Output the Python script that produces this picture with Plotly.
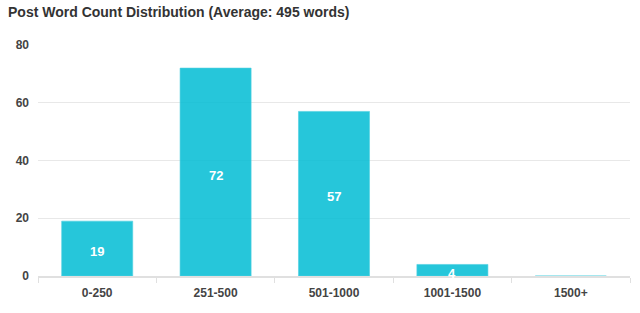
import plotly.graph_objects as go

categories = ["0-250", "251-500", "501-1000", "1001-1500", "1500+"]
counts = [19, 72, 57, 4, 0]
y_ticks = [0, 20, 40, 60, 80]

bar_fill = "rgba(0,188,212,0.85)"
bar_line = "rgba(77,208,225,0.6)"

fig = go.Figure()
fig.add_trace(go.Bar(
    x=categories, y=counts, width=0.6,
    marker=dict(color=bar_fill, line=dict(color=bar_line, width=1)),
    hoverinfo="x+y",
))

for c, v in zip(categories, counts):
    if v > 0:
        fig.add_annotation(x=c, y=v / 2, text=str(v), showarrow=False, yshift=-3,
                           font=dict(family="Liberation Sans, Arial", size=13, color="white", weight="bold"))

fig.update_layout(
    width=640, height=313,
    margin=dict(l=38, r=10, t=45, b=37),
    paper_bgcolor="white", plot_bgcolor="white",
    title=dict(text="Post Word Count Distribution (Average: 495 words)",
               x=8/640, xref="container", xanchor="left", y=1, yref="container", yanchor="top",
               pad=dict(t=7),
               font=dict(family="Liberation Sans, Arial", size=14, color="#333333", weight="bold")),
    showlegend=False,
)
fig.update_xaxes(
    showline=True, linecolor="#e0e0e0", linewidth=2,
    ticks="outside", tickson="boundaries", ticklen=5, tickcolor="#e0e0e0",
    showgrid=False, ticklabelstandoff=5,
    tickfont=dict(family="Liberation Sans, Arial", size=12, color="#444444", weight="bold"),
)
fig.update_yaxes(
    range=[0, 80], tickvals=y_ticks, showgrid=True, gridcolor="#e8e8e8", gridwidth=1,
    zeroline=False, showline=False, ticks="", ticklabelstandoff=8,
    tickfont=dict(family="Liberation Sans, Arial", size=12, color="#444444", weight="bold"),
)

fig.write_html("out.html")
